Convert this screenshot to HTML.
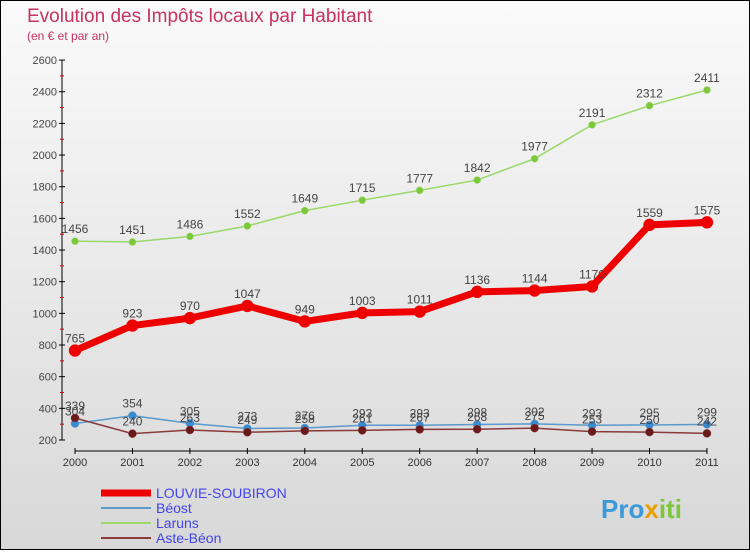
<!DOCTYPE html>
<html><head><meta charset="utf-8"><style>
body{margin:0;width:750px;height:550px;overflow:hidden;font-family:"Liberation Sans",sans-serif}
#wrap{position:relative;width:748px;height:548px;border:1px solid #000;background:linear-gradient(#fafafa,#d8d8d8)}
</style></head><body>
<div id="wrap">
<svg id="svg" width="748" height="548">
<text x="26" y="21" font-size="19" fill="#c8325e">Evolution des Impôts locaux par Habitant</text>
<text x="26" y="39" font-size="12" fill="#c8325e">(en € et par an)</text>
<g id="g"></g>
<text x="600" y="517" font-size="26" font-weight="bold" fill="#3a9ad9">Pro<tspan fill="#e8a000">x</tspan><tspan fill="#7cc83a">iti</tspan></text>
</svg></div>
<script>
const years=[2000,2001,2002,2003,2004,2005,2006,2007,2008,2009,2010,2011];
const louvie=[765,923,970,1047,949,1003,1011,1136,1144,1170,1559,1575];
const beost=[304,354,305,273,276,293,293,298,302,293,295,299];
const laruns=[1456,1451,1486,1552,1649,1715,1777,1842,1977,2191,2312,2411];
const aste=[339,240,263,249,258,261,267,268,275,253,250,242];
const yTicks=[200,400,600,800,1000,1200,1400,1600,1800,2000,2200,2400,2600];
const NS="http://www.w3.org/2000/svg";
const g=document.getElementById('g');
const X=i=>74+i*57.45, Y=v=>439-(v-200)*0.1583;
function mk(t,a,p){const e=document.createElementNS(NS,t);for(const k in a)e.setAttribute(k,a[k]);(p||g).appendChild(e);return e;}
let ax=mk('line',{x1:61,y1:Y(2600),x2:61,y2:Y(200),stroke:'#000'});


let bx=mk('line',{x1:X(0),y1:450,x2:X(years.length-1),y2:450,stroke:'#000'});


yTicks.forEach((v,i)=>{
 mk('line',{x1:58,y1:Y(v),x2:64,y2:Y(v),stroke:'#000'});
 if(i<yTicks.length-1)mk('line',{x1:59,y1:Y(v+100),x2:63,y2:Y(v+100),stroke:'#d00'});
 const t=mk('text',{x:56,y:Y(v)+4,'font-size':11,fill:'#444','text-anchor':'end'});t.textContent=v;
 
 
});
years.forEach((y,i)=>{
 mk('line',{x1:X(i),y1:447,x2:X(i),y2:453,stroke:'#000'});
 const t=mk('text',{x:X(i),y:465,'font-size':11,fill:'#333','text-anchor':'middle'});t.textContent=y;
 
 
});
function series(d,col,w,r,dot,name){
 const p=mk('polyline',{points:d.map((v,i)=>X(i)+','+Y(v)).join(' '),fill:'none',stroke:col,'stroke-width':w,'stroke-linejoin':'round'});
 
 
 d.forEach((v,i)=>{
  const c=mk('circle',{cx:X(i),cy:Y(v),r:r,fill:dot,stroke:col,'stroke-width':0.5});
  
  
  const t=mk('text',{x:X(i),y:Y(v)-8,'font-size':12,fill:'#444','text-anchor':'middle'});t.textContent=v;
  
  
 });
}
series(laruns,'#9ad86a',1.5,3.5,'#7cc83a','laruns');
series(beost,'#5a9acc',1.5,4,'#3a8ad0','beost');
series(aste,'#8a3a3a',1.5,4,'#6a1a1a','aste-beon');
series(louvie,'#e00',7,6,'#e00','louvie-soubiron');
const leg=[['LOUVIE-SOUBIRON','#e00',7],['Béost','#5a9acc',2],['Laruns','#9ad86a',2],['Aste-Béon','#8a3a3a',2]];
leg.forEach((l,i)=>{
 const y=492+i*15;
 const ln=mk('line',{x1:100,y1:y,x2:150,y2:y,stroke:l[1],'stroke-width':l[2]});
 
 
 const t=mk('text',{x:155,y:y+5,'font-size':14,fill:'#44e'});t.textContent=l[0];
 
 
});
</script>
</body></html>
